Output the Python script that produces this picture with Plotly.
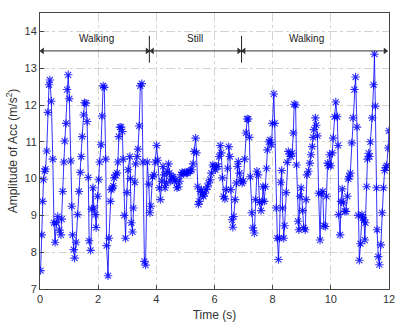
import plotly.graph_objects as go

time_s = [0.02,0.06,0.09,0.12,0.16,0.19,0.23,0.27,0.31,0.34,0.39,0.44,0.48,0.52,0.56,0.61,0.67,0.72,0.75,0.78,
0.82,0.85,0.90,0.93,0.97,1.01,1.06,1.09,1.12,1.16,1.19,1.24,1.29,1.34,1.39,1.42,1.45,1.50,1.53,1.58,
1.62,1.66,1.69,1.74,1.78,1.82,1.85,1.90,1.93,1.98,2.02,2.05,2.10,2.13,2.17,2.21,2.26,2.29,2.34,2.37,
2.42,2.45,2.49,2.52,2.55,2.60,2.65,2.68,2.71,2.75,2.79,2.83,2.86,2.90,2.94,2.99,3.03,3.09,3.11,3.14,
3.18,3.21,3.26,3.29,3.34,3.37,3.41,3.45,3.50,3.54,3.59,3.63,3.69,3.74,3.78,3.81,3.87,3.92,3.96,4.01,
4.05,4.10,4.14,4.19,4.23,4.27,4.30,4.34,4.37,4.42,4.45,4.48,4.53,4.58,4.62,4.67,4.71,4.76,4.80,4.85,
4.89,4.94,4.98,5.03,5.07,5.12,5.17,5.21,5.26,5.30,5.35,5.38,5.42,5.45,5.48,5.52,5.55,5.59,5.62,5.67,
5.71,5.76,5.80,5.85,5.89,5.94,5.98,6.03,6.07,6.12,6.16,6.20,6.23,6.27,6.31,6.36,6.40,6.45,6.49,6.53,
6.56,6.60,6.63,6.66,6.71,6.75,6.79,6.82,6.86,6.90,6.95,6.99,7.04,7.08,7.12,7.16,7.20,7.23,7.28,7.32,
7.37,7.41,7.46,7.50,7.55,7.60,7.64,7.67,7.71,7.75,7.79,7.82,7.87,7.91,7.96,7.99,8.04,8.07,8.12,8.16,
8.20,8.23,8.28,8.31,8.34,8.38,8.41,8.46,8.50,8.54,8.58,8.63,8.67,8.71,8.74,8.79,8.82,8.87,8.90,8.94,
8.98,9.03,9.07,9.12,9.15,9.18,9.23,9.28,9.32,9.36,9.39,9.42,9.47,9.50,9.54,9.58,9.63,9.67,9.72,9.76,
9.81,9.85,9.89,9.92,9.96,10.00,10.05,10.08,10.13,10.17,10.22,10.25,10.27,10.32,10.35,10.39,10.43,10.48,10.52,10.57,
10.60,10.64,10.67,10.72,10.76,10.81,10.85,10.90,10.94,10.98,11.02,11.07,11.10,11.14,11.17,11.19,11.23,11.26,11.30,11.33,
11.36,11.42,11.47,11.50,11.53,11.57,11.59,11.63,11.67,11.72,11.76,11.81,11.85,11.89,11.92,11.97,12.00]

amplitude = [7.50,8.47,9.38,9.97,10.20,10.26,10.75,11.80,12.55,12.68,12.10,10.53,8.80,8.27,8.80,8.97,8.60,8.47,8.90,9.65,
10.45,11.02,11.50,12.42,12.82,12.17,10.48,9.25,8.47,8.07,7.84,8.27,9.02,9.65,10.17,10.60,11.14,11.73,12.06,12.05,
11.55,10.03,8.31,8.05,9.17,9.75,9.20,9.02,8.67,9.52,9.97,10.45,10.92,11.70,12.52,12.48,10.53,8.18,7.36,8.38,
9.38,9.70,9.74,9.80,10.02,10.10,10.15,10.45,11.14,11.40,11.40,11.28,10.53,9.00,8.38,9.62,10.24,10.60,10.00,8.80,
8.55,9.20,9.90,10.40,10.60,10.80,11.43,12.52,12.58,10.45,7.75,7.65,10.45,9.85,9.07,9.25,10.05,10.10,10.45,10.90,
10.50,9.75,9.43,9.93,10.33,10.10,9.75,9.88,10.20,10.40,10.15,9.93,10.05,10.05,9.93,9.97,9.75,9.78,9.93,10.10,
10.17,10.15,10.17,10.15,10.15,10.20,10.20,10.24,10.40,10.74,11.10,10.70,9.78,9.30,9.38,9.65,9.70,9.56,9.52,9.60,
9.70,9.78,9.88,9.97,10.15,10.37,10.33,10.24,10.33,10.33,10.60,10.90,10.70,10.02,9.52,9.45,9.70,10.28,10.87,10.60,
9.70,8.88,8.68,8.97,9.43,9.88,10.33,10.46,10.15,9.97,9.88,9.93,10.53,11.24,11.62,11.62,11.12,10.05,9.07,8.66,
8.52,9.43,10.20,10.10,9.35,9.13,9.38,9.78,9.38,9.78,10.28,10.78,11.00,11.05,10.92,11.50,12.30,11.50,9.20,8.38,
7.80,8.38,9.90,10.22,9.20,8.38,8.72,9.62,10.44,10.74,10.67,10.60,10.69,11.24,12.02,12.00,10.37,8.84,8.61,9.52,
9.75,9.13,8.66,8.61,9.43,10.10,10.20,10.42,10.65,10.87,11.12,11.33,11.65,11.45,11.16,9.60,8.33,9.60,9.65,8.72,
8.70,9.52,10.42,10.35,10.65,10.35,10.70,11.10,11.68,12.08,11.68,10.90,9.02,8.47,9.38,9.72,9.34,9.11,9.11,9.52,
9.99,10.05,10.15,10.97,11.65,12.42,12.76,11.40,9.00,7.78,8.23,9.02,8.93,8.88,8.33,8.80,9.78,10.53,10.69,10.60,
11.00,11.65,12.55,13.38,11.97,9.75,8.61,7.88,7.66,8.20,9.07,9.75,10.22,10.30,10.35,10.83,11.30]

phase_labels = ["Walking", "Still", "Walking"]
phase_start = [0.08, 3.86, 7.01]
phase_end = [3.69, 6.84, 11.87]
phase_text_x = [1.95, 5.32, 9.18]
phase_bounds = [3.76, 6.93]
arrow_y = 13.47
label_y = 13.8

fig = go.Figure()
fig.add_trace(go.Scatter(
    x=time_s, y=amplitude, mode="lines+markers",
    line=dict(color="rgba(0,0,255,0.8)", width=1),
    marker=dict(symbol="asterisk-open", size=7, line=dict(color="#0000ff", width=1.1)),
    showlegend=False, cliponaxis=True,
))

for xb in phase_bounds:
    fig.add_shape(type="line", x0=xb, x1=xb, y0=13.15, y1=13.88, xref="x", yref="y",
                  line=dict(color="#222222", width=1))

for lab, s, e, tx in zip(phase_labels, phase_start, phase_end, phase_text_x):
    fig.add_trace(go.Scatter(
        x=[s, e], y=[arrow_y, arrow_y], mode="lines+markers",
        line=dict(color="#333333", width=1),
        marker=dict(symbol=["triangle-left", "triangle-right"], size=6, color="#333333"),
        showlegend=False, hoverinfo="skip",
    ))
    fig.add_annotation(x=tx, y=label_y, xref="x", yref="y", text=lab, showarrow=False,
                       font=dict(size=10, color="#222222"))

axis_common = dict(
    showline=True, linecolor="#444444", linewidth=1, mirror=True,
    ticks="inside", ticklen=4, tickcolor="#444444",
    showgrid=True, gridcolor="#d4d4d4", griddash="dashdot", gridwidth=1,
    zeroline=False, tickfont=dict(size=11, color="#333333"),
)
fig.update_xaxes(range=[0, 12], dtick=2, tick0=0,
                 title=dict(text="Time (s)", font=dict(size=12, color="#333333"), standoff=6),
                 **axis_common)
fig.update_yaxes(range=[7, 14.5], tickvals=[7, 8, 9, 10, 11, 12, 13, 14],
                 title=dict(text="Amplitude of Acc (m/s<sup>2</sup>)", font=dict(size=12, color="#333333"), standoff=4),
                 **axis_common)

fig.update_layout(
    width=417, height=333,
    margin=dict(l=37, r=28, t=13, b=44),
    paper_bgcolor="white", plot_bgcolor="white",
    font=dict(family="Liberation Sans, Arial, sans-serif", size=11, color="#333333"),
)

fig.write_html("out.html")
